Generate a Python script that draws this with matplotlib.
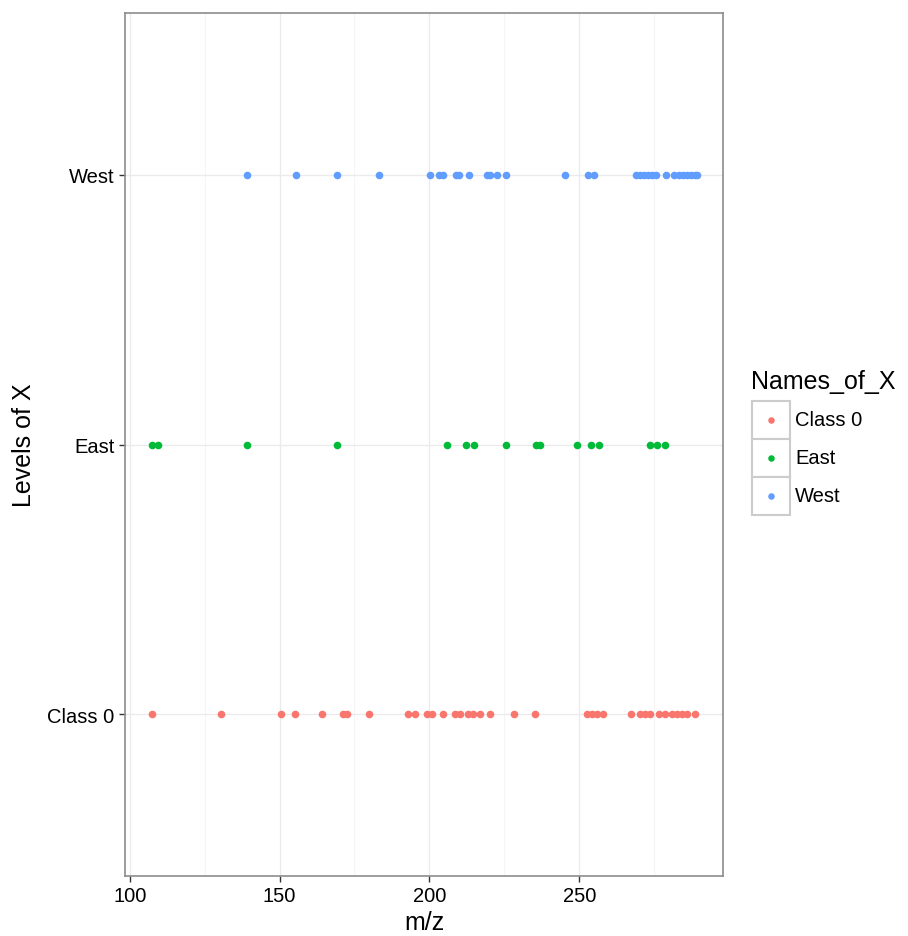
import numpy as np
import matplotlib
matplotlib.use("Agg")
import matplotlib.pyplot as plt
from matplotlib.patches import Rectangle

plt.rcParams['font.family'] = ['Liberation Sans', 'DejaVu Sans']

# categories, bottom to top
levels = ["Class 0", "East", "West"]
colors = ["#F8766D", "#00BA38", "#619CFF"]

class0_mz = [107.5, 130.3, 150.5, 155.1, 164.3, 171.3, 172.4, 180.0, 193.0, 195.2,
             199.1, 200.8, 204.4, 208.6, 210.3, 213.0, 214.7, 216.9, 220.3, 228.4,
             235.3, 252.6, 254.2, 255.9, 258.1, 267.3, 270.4, 272.1, 273.7, 276.5,
             278.5, 281.0, 282.7, 284.3, 286.0, 288.8]
east_mz = [107.4, 109.4, 139.2, 169.3, 206.0, 212.3, 215.0, 225.5, 235.5, 237.0,
           249.2, 254.0, 256.7, 273.5, 276.0, 278.8]
west_mz = [139.2, 155.4, 169.3, 183.3, 200.2, 203.3, 204.5, 208.9, 210.0, 213.3,
           219.2, 220.3, 222.5, 225.5, 245.3, 253.1, 254.8, 269.1, 270.4, 271.7,
           273.1, 274.4, 275.7, 279.1, 281.8, 283.2, 284.7, 286.0, 287.3, 288.5, 289.3]
series = [class0_mz, east_mz, west_mz]

x_ticks = [100, 150, 200, 250]
x_minor = [125, 175, 225, 275]

W, H = 908, 937
fig = plt.figure(figsize=(W / 100, H / 100), dpi=100)
ax = fig.add_axes([125 / W, (H - 877) / H, (723 - 125) / W, (877 - 14) / H])

for i, (vals, c) in enumerate(zip(series, colors)):
    ax.scatter(vals, np.full(len(vals), i + 1), s=30, color=c, linewidths=0, zorder=3)

ax.set_xlim(98.4, 298.0)
ax.set_ylim(0.4, 3.6)
ax.set_xticks(x_ticks)
ax.set_xticks(x_minor, minor=True)
ax.set_yticks([1, 2, 3])
ax.set_yticklabels(levels)

ax.grid(which='major', color='#EBEBEB', linewidth=1.0, zorder=0)
ax.grid(which='minor', axis='x', color='#F5F5F5', linewidth=0.8, zorder=0)
ax.set_axisbelow(True)
for s in ax.spines.values():
    s.set_color('#8C8C8C')
    s.set_linewidth(1.2)
ax.tick_params(which='major', length=4.5, width=1, color='#333333',
               labelsize=14.5, labelcolor='black', pad=3)
ax.tick_params(which='minor', length=0)
ax.set_xlabel("m/z", fontsize=18, labelpad=3)
ax.set_ylabel("Levels of X", fontsize=18, labelpad=8)

# legend drawn by hand in pixel coordinates
lax = fig.add_axes([0, 0, 1, 1], facecolor='none')
lax.set_xlim(0, W)
lax.set_ylim(H, 0)
lax.axis('off')
lax.text(751, 382, "Names_of_X", fontsize=18, va='center', ha='left')
for i, (lab, c) in enumerate(zip(levels, colors)):
    y0 = 402 + i * 38
    lax.add_patch(Rectangle((752, y0), 38, 38, facecolor='white',
                            edgecolor='#CCCCCC', linewidth=1.5))
    lax.scatter([771], [y0 + 19], s=22, color=c, linewidths=0)
    lax.text(795, y0 + 19, lab, fontsize=14.5, va='center', ha='left')

fig.savefig("out.png", dpi=100)
